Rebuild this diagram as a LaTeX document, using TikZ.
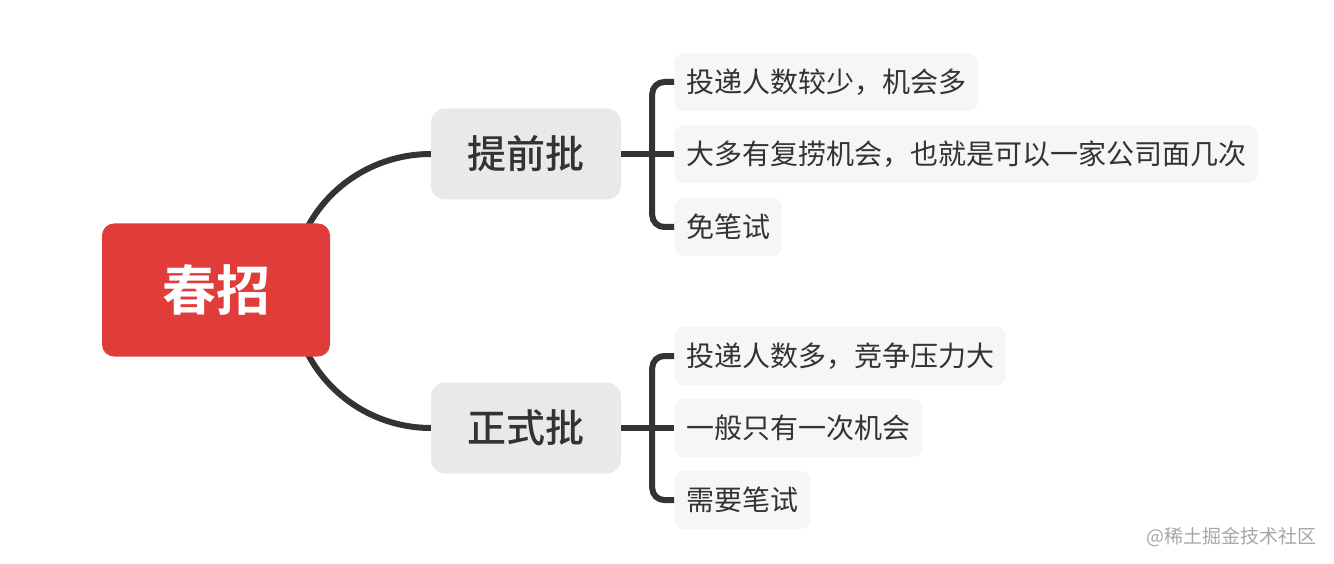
\documentclass[tikz,border=0pt]{standalone}
\usepackage{fontspec}
\setmainfont{Noto Sans CJK SC}[BoldFont={Noto Sans CJK SC Bold}]
\newfontfamily\cjkmedium{Noto Sans CJK SC Medium}
\usepackage{tikz}
\usetikzlibrary{positioning, calc}

\definecolor{rootred}{HTML}{E03C3A}
\definecolor{branchgray}{HTML}{E9E9E9}
\definecolor{leafgray}{HTML}{F7F5F5}
\definecolor{linkdark}{HTML}{333333}

\begin{document}
\begin{tikzpicture}[
    x=1pt, y=-1pt,
    rootbox/.style={fill=rootred, rounded corners=12pt, minimum width=228pt, minimum height=133pt, text=white, font=\fontsize{54}{60}\selectfont\bfseries},
    branchbox/.style={fill=branchgray, rounded corners=14pt, minimum width=190pt, minimum height=91pt, text=linkdark, font=\fontsize{39}{44}\selectfont\cjkmedium},
    leafbox/.style={fill=leafgray, rounded corners=10pt, minimum height=58pt, inner xsep=12pt, anchor=west, text=linkdark, font=\fontsize{28}{32}\selectfont},
    link/.style={draw=linkdark, line width=6pt},
]
  \useasboundingbox (0,0) rectangle (1334,564);

  % main topic and curved links
  \coordinate (hub) at (292,290);
  \draw[link] (hub) to[out=90, in=180] (431,154) coordinate (b1in);
  \draw[link] (hub) to[out=-90, in=180] (431,428) coordinate (b2in);
  \node[rootbox] (root) at (216,290) {春招};

  \node[branchbox] (early) at (526,154) {提前批};
  \node[branchbox] (formal) at (526,428) {正式批};

  % leaves of the first branch
  \node[leafbox] (e1) at (674,82) {投递人数较少，机会多};
  \node[leafbox] (e2) at (674,154) {大多有复捞机会，也就是可以一家公司面几次};
  \node[leafbox] (e3) at (674,227) {免笔试};

  % leaves of the second branch
  \node[leafbox] (f1) at (674,356) {投递人数多，竞争压力大};
  \node[leafbox] (f2) at (674,428) {一般只有一次机会};
  \node[leafbox] (f3) at (674,500) {需要笔试};

  % brackets
  \coordinate (ej) at ($(early.east)+(31,0)$);
  \coordinate (fj) at ($(formal.east)+(31,0)$);
  \draw[link, rounded corners=12pt] (e1.west) -| (ej) |- (e3.west);
  \draw[link] (early.east) -- (e2.west);
  \draw[link, rounded corners=12pt] (f1.west) -| (fj) |- (f3.west);
  \draw[link] (formal.east) -- (f2.west);

  \node[text=black!35, font=\fontsize{19}{22}\selectfont, anchor=east] (mark) at (1320,537) {@稀土掘金技术社区};
\end{tikzpicture}
\end{document}
